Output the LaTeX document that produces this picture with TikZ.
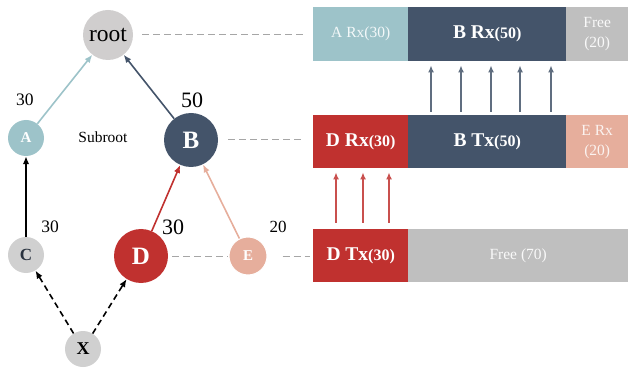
\documentclass[tikz,border=0pt]{standalone}
\usepackage{fontspec}
\setmainfont{Liberation Serif}
\usetikzlibrary{arrows.meta}
\definecolor{cA}{HTML}{9DC3C9}
\definecolor{cB}{HTML}{44546A}
\definecolor{cRoot}{HTML}{D0CECE}
\definecolor{cNode}{HTML}{D0D0D0}
\definecolor{cD}{HTML}{C0312F}
\definecolor{cE}{HTML}{E6AE9C}
\definecolor{cFree}{HTML}{BFBFBF}
\definecolor{cGuide}{HTML}{A6A6A6}
\newcommand{\fs}[1]{\fontsize{#1}{#1}\selectfont}
\begin{document}
\begin{tikzpicture}[x=1pt,y=-1pt,
  vtx/.style={circle, inner sep=0pt, font=\bfseries},
  edge/.style={line width=1.6pt, -{Latex[length=8pt,width=6.5pt]}},
  guide/.style={draw=cGuide, line width=1pt, dash pattern=on 7pt off 4pt},
  bar/.style={rectangle, inner sep=0pt, anchor=north west, text=white, align=center},
  barrow/.style={line width=1.8pt, -{Latex[length=7pt,width=6pt]}},
  lbl/.style={inner sep=0pt}]
\useasboundingbox (0,0) rectangle (631,371);

% tree nodes
\node[vtx, fill=cRoot, minimum size=50pt, font=\fs{23.5}] (root) at (108,35) {root};
\node[vtx, fill=cA, minimum size=36pt, text=white, font=\bfseries\fs{15}] (A) at (26,138) {A};
\node[vtx, fill=cB, minimum size=54pt, text=white, font=\bfseries\fs{25}] (B) at (191,140) {B};
\node[vtx, fill=cNode, minimum size=36pt, text=cB!60!black, font=\bfseries\fs{17}] (C) at (26,255) {C};
\node[vtx, fill=cD, minimum size=54pt, text=white, font=\bfseries\fs{25}] (D) at (141,256) {D};
\node[vtx, fill=cE, draw=white, line width=1pt, minimum size=38pt, text=white, font=\bfseries\fs{15}] (E) at (248,256) {E};
\node[vtx, fill=cNode, minimum size=36pt, text=black, font=\bfseries\fs{18}] (X) at (83,349) {X};

% labels
\node[lbl, font=\fs{17.5}] (lA) at (25,100) {30};
\node[lbl, font=\fs{22}] (lB) at (192,100) {50};
\node[lbl, font=\fs{15.5}] (sub) at (103,137) {Subroot};
\node[lbl, font=\fs{17.5}] (lC) at (50,227) {30};
\node[lbl, font=\fs{22}] (lD) at (173,227) {30};
\node[lbl, font=\fs{17}] (lE) at (278,227) {20};

% tree edges
\draw[edge, cA] (A) -- (root);
\draw[edge, cB] (B) -- (root);
\draw[edge, black] (C) -- (A);
\draw[edge, cD] (D) -- (B);
\draw[edge, cE] (E) -- (B);
\draw[edge, black, dash pattern=on 6pt off 4pt] (X) -- (C);
\draw[edge, black, dash pattern=on 6pt off 4pt] (X) -- (D);

% bars
\node[bar, fill=cA, minimum width=95pt, minimum height=54pt, text=white!88!cA, font=\fs{15.5}] (arx) at (313,7) {A Rx(30)};
\node[bar, fill=cB, minimum width=158pt, minimum height=54pt, font=\bfseries\fs{19.5}] (brx) at (408,7) {B Rx{\fs{16}(50)}};
\node[bar, fill=cFree, minimum width=62pt, minimum height=54pt, text=white!90!cFree, font=\fontsize{15.5}{20}\selectfont] (free) at (566,7) {Free\\(20)};

\node[bar, fill=cD, minimum width=95pt, minimum height=53pt, font=\bfseries\fs{19.5}] (drx) at (313,115) {D Rx{\fs{16}(30)}};
\node[bar, fill=cB, minimum width=158pt, minimum height=53pt, font=\bfseries\fs{19.5}] (btx) at (408,115) {B Tx{\fs{16}(50)}};
\node[bar, fill=cE, minimum width=62pt, minimum height=53pt, text=white!85!cE, font=\fontsize{15.5}{20}\selectfont] (erx) at (566,115) {E Rx\\(20)};

\node[bar, fill=cD, minimum width=95pt, minimum height=53pt, font=\bfseries\fs{19.5}] (dtx) at (313,229) {D Tx{\fs{16}(30)}};
\node[bar, fill=cFree, minimum width=220pt, minimum height=53pt, text=white!90!cFree, font=\fs{15.5}] (free70) at (408,229) {Free (70)};

% arrows between bars
\foreach \dx in {23,53,83,112,143}
  \draw[barrow, cB!85!white, shorten <=3pt, shorten >=4pt] ([xshift=\dx pt]btx.north west) -- ([xshift=\dx pt]brx.south west);
\foreach \dx in {23,50,76}
  \draw[barrow, cD!85!white, shorten <=6pt, shorten >=4pt] ([xshift=\dx pt]dtx.north west) -- ([xshift=\dx pt]drx.south west);

% guide lines
\draw[guide, shorten <=9pt, shorten >=8pt] (root.east) -- (root.east -| arx.west);
\draw[guide, shorten <=10pt, shorten >=11pt] (B.east) -- (B.east -| drx.west);
\draw[guide, shorten <=4pt, shorten >=1pt] (D.east) -- (E.west);
\draw[guide, shorten <=15pt, shorten >=3pt] (E.east) -- (E.east -| dtx.west);
\end{tikzpicture}
\end{document}
